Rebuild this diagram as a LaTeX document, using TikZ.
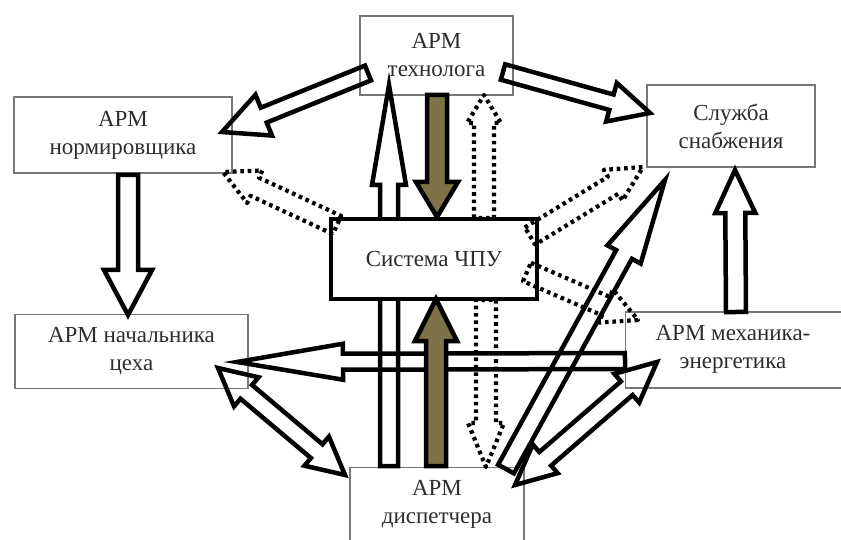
\documentclass[tikz,border=0pt]{standalone}
\usepackage{fontspec}
\setmainfont{Liberation Serif}
\usetikzlibrary{calc}
\definecolor{olivefill}{RGB}{125,115,70}
\definecolor{txt}{RGB}{45,45,45}
\definecolor{boxline}{RGB}{120,120,120}
% #1 style, #2 tail, #3 apex, #4 shaft half width, #5 head half width, #6 head length
\newcommand\blockarrow[6][]{%
  \path ($(#3)!#6!(#2)$) coordinate (bH);
  \draw[#1] ($(#2)!#4!90:(#3)$) -- ($(bH)!#4!90:(#3)$) -- ($(bH)!#5!90:(#3)$) -- (#3)
    -- ($(bH)!#5!-90:(#3)$) -- ($(bH)!#4!-90:(#3)$) -- ($(#2)!#4!-90:(#3)$) -- cycle;
}
\newcommand\dblarrow[6][]{%
  \path ($(#3)!#6!(#2)$) coordinate (bH) ($(#2)!#6!(#3)$) coordinate (bT);
  \draw[#1] (#2) -- ($(bT)!#5!90:(#3)$) -- ($(bT)!#4!90:(#3)$) -- ($(bH)!#4!90:(#3)$)
    -- ($(bH)!#5!90:(#3)$) -- (#3) -- ($(bH)!#5!-90:(#3)$) -- ($(bH)!#4!-90:(#3)$)
    -- ($(bT)!#4!-90:(#3)$) -- ($(bT)!#5!-90:(#3)$) -- cycle;
}
\begin{document}
\begin{tikzpicture}[x=1pt,y=-1pt,
  box/.style={draw=boxline, line width=1.3pt, fill=white, text=txt, align=center,
    font=\fontsize{23}{28}\selectfont, inner sep=0pt},
  label/.style={text=txt, align=center, font=\fontsize{23}{28}\selectfont, inner sep=0pt},
  warrow/.style={draw=black, line width=4.5pt, line join=miter, miter limit=20},
  oarrow/.style={warrow, fill=olivefill},
  darrow/.style={draw=black, line width=4.2pt, dash pattern=on 3.6pt off 3.8pt, line join=round}]
\useasboundingbox[fill=white] (0,0) rectangle (841,540);

% boxes
\node[box, minimum width=153pt, minimum height=79pt] (tech) at (436.5,55.5) {АРМ\\технолога};
\node[box, minimum width=218pt, minimum height=76pt] (norm) at (123,135) {АРМ\\нормировщика};
\node[box, minimum width=168pt, minimum height=82pt] (supp) at (731,126) {Служба\\снабжения};
\node[box, minimum width=233pt, minimum height=74pt] (chief) at (131.5,351.5) {АРМ начальника\\цеха};
\node[box, minimum width=220pt, minimum height=76pt, anchor=west] (mech) at (625,350) {};
\node[label] (mechtxt) at (733,349) {АРМ механика-\\энергетика};
\node[box, minimum width=174pt, minimum height=90pt, anchor=north] (disp) at (437,467) {};
\node[label] (disptxt) at (437,504) {АРМ\\диспетчера};

% named arrow end points
\coordinate (a1s) at (368,73);   \coordinate (a1e) at (222,132);
\coordinate (a2s) at (503,72);   \coordinate (a2e) at (650,113);
\coordinate (a3s) at (389,466);  \coordinate (a3e) at (389,85);
\coordinate (a4s) at (437,95);   \coordinate (a4e) at (437,217);
\coordinate (a5s) at (484,218);  \coordinate (a5e) at (484,95);
\coordinate (a6s) at (436,466);  \coordinate (a6e) at (436,299);
\coordinate (a7s) at (486,300);  \coordinate (a7e) at (486,467);
\coordinate (a8s) at (337,225);  \coordinate (a8e) at (223,172);
\coordinate (a9s) at (530,236);  \coordinate (a9e) at (643,167);
\coordinate (a10s) at (527,272); \coordinate (a10e) at (638,320);
\coordinate (a11s) at (625,361); \coordinate (a11e) at (237,362);
\coordinate (a12s) at (218,368); \coordinate (a12e) at (345,475);
\coordinate (a13s) at (657,362); \coordinate (a13e) at (515,485);
\coordinate (a14s) at (506,469); \coordinate (a14e) at (665,180);
\coordinate (a15s) at (736,312); \coordinate (a15e) at (735,170);
\coordinate (a16s) at (128,175); \coordinate (a16e) at (128,315);

% arrow passing behind the CNC box
\blockarrow[warrow]{a3s}{a3e}{9pt}{17pt}{100pt}

% CNC box
\node[draw=black, line width=4.5pt, fill=white, minimum width=206pt, minimum height=80pt,
  text=txt, font=\fontsize{23}{28}\selectfont, inner sep=0pt] (cnc) at (434,259) {Система ЧПУ};

% white arrows
\blockarrow[warrow]{a1s}{a1e}{8pt}{22pt}{45pt}
\blockarrow[warrow]{a2s}{a2e}{8pt}{20pt}{40pt}
\blockarrow[warrow]{a11s}{a11e}{8pt}{18pt}{106pt}
\blockarrow[warrow]{a14s}{a14e}{9pt}{19pt}{85pt}
\blockarrow[warrow]{a15s}{a15e}{10pt}{20pt}{43pt}
\blockarrow[warrow]{a16s}{a16e}{10pt}{24pt}{45pt}
\dblarrow[warrow]{a12s}{a12e}{9pt}{19pt}{37pt}
\dblarrow[warrow]{a13s}{a13e}{9pt}{19pt}{40pt}

% dotted arrows
\blockarrow[darrow]{a5s}{a5e}{10pt}{17pt}{28pt}
\blockarrow[darrow]{a7s}{a7e}{10pt}{18pt}{44pt}
\blockarrow[darrow]{a8s}{a8e}{10pt}{18pt}{35pt}
\blockarrow[darrow]{a9s}{a9e}{10pt}{18pt}{35pt}
\blockarrow[darrow]{a10s}{a10e}{10pt}{18pt}{35pt}

% olive arrows
\blockarrow[oarrow]{a4s}{a4e}{10pt}{21pt}{35pt}
\blockarrow[oarrow]{a6s}{a6e}{10pt}{21pt}{42pt}
\end{tikzpicture}
\end{document}
